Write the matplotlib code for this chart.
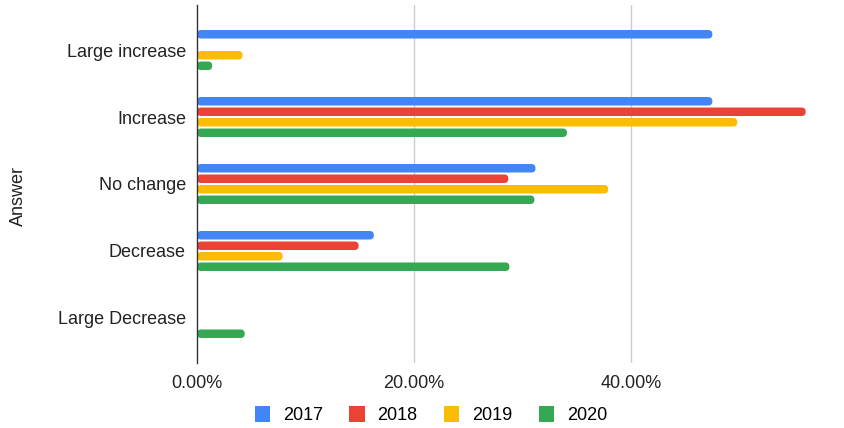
import matplotlib
matplotlib.use("Agg")
import matplotlib.pyplot as plt
from matplotlib.patches import FancyBboxPatch, Patch

categories = ["Large increase", "Increase", "No change", "Decrease", "Large Decrease"]
years = ["2017", "2018", "2019", "2020"]
v2017 = [47.5, 47.5, 31.2, 16.3, 0.0]
v2018 = [0.0, 56.1, 28.7, 14.9, 0.0]
v2019 = [4.2, 49.8, 37.9, 7.9, 0.0]
v2020 = [1.4, 34.1, 31.1, 28.8, 4.4]
series = [v2017, v2018, v2019, v2020]
colors = ["#4285F4", "#EA4335", "#FBBC04", "#34A853"]
xticks = [0, 20, 40]
xticklabels = ["0.00%", "20.00%", "40.00%"]

plt.rcParams['font.family'] = ['Liberation Sans', 'DejaVu Sans']

W, H = 844, 428
fig = plt.figure(figsize=(W / 100, H / 100), dpi=100)
left, right, top, bottom = 197, 844, 5, 363
ax = fig.add_axes([left / W, 1 - bottom / H, (right - left) / W, (bottom - top) / H])

xmax = 20 * (right - left) / 217.0
ax.set_xlim(0, xmax)
ylo = -0.672
ax.set_ylim(len(categories) - 1 - ylo, ylo)

px_x = xmax / (right - left)
px_y = (len(categories) - 1 - 2 * ylo) / (bottom - top)

bar_h = 8.5 * px_y
step = 10.5 * px_y
r_x = 4.2 * px_x
aspect = (4.2 * px_y) / r_x

for si, vals in enumerate(series):
    off = (si - 1.5) * step
    for ci, v in enumerate(vals):
        if v <= 0:
            continue
        y = ci + off
        p = FancyBboxPatch((0, y - bar_h / 2), v, bar_h,
                           boxstyle=f"round,pad=0,rounding_size={r_x}",
                           mutation_aspect=aspect, facecolor=colors[si],
                           edgecolor="none", zorder=3)
        ax.add_patch(p)

fs = 13
ax.set_yticks(range(len(categories)))
ax.set_yticklabels(categories, fontsize=fs, color="#222222")
ax.set_xticks(xticks)
ax.set_xticklabels(xticklabels, fontsize=fs, color="#222222")
ax.tick_params(axis='both', length=0)
ax.tick_params(axis='y', pad=8)
ax.tick_params(axis='x', pad=9)
for s in ["top", "right", "bottom"]:
    ax.spines[s].set_visible(False)
ax.spines["left"].set_color("#333333")
ax.spines["left"].set_linewidth(1.0)
ax.spines["left"].set_zorder(4)
for xt in xticks[1:]:
    ax.axvline(xt, color="#cccccc", linewidth=1.0, zorder=1)

fig.text(18 / W, 1 - 196 / H, "Answer", rotation=90, ha="center", va="center",
         fontsize=fs, color="#222222")

handles = [Patch(facecolor=c, edgecolor="none", label=y) for c, y in zip(colors, years)]
fig.legend(handles=handles, loc="center", bbox_to_anchor=(431 / W, 1 - 415 / H),
           ncol=4, frameon=False, fontsize=fs, handlelength=0.85, handleheight=1.0,
           columnspacing=1.45, handletextpad=0.72)

fig.savefig("out.png", dpi=100)
